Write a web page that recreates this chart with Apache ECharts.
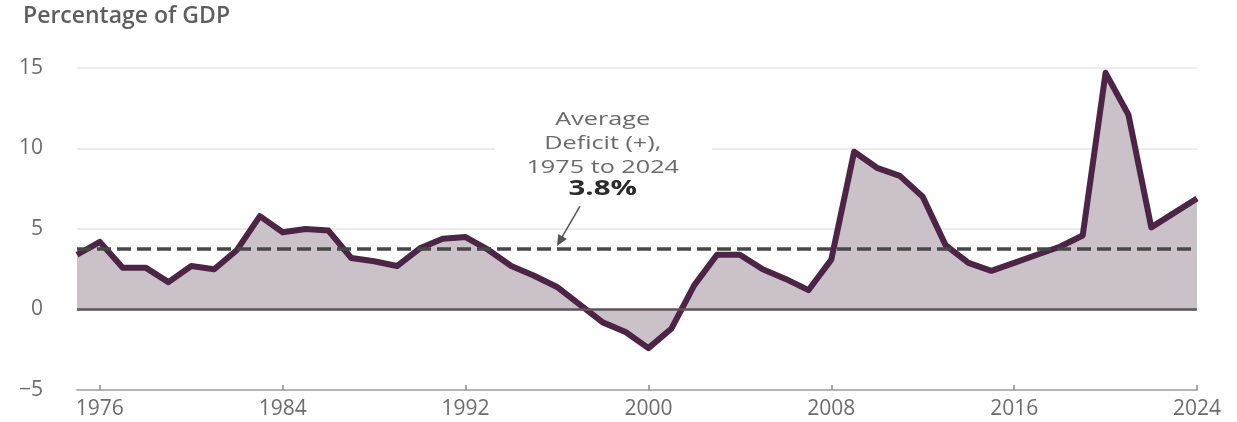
<!DOCTYPE html>
<html>
<head>
<meta charset="utf-8">
<script src="https://cdn.jsdelivr.net/npm/echarts@6/dist/echarts.min.js"></script>
<style>
  html, body { margin: 0; padding: 0; background: #fff; }
  #main { width: 1237px; height: 422px; }
</style>
</head>
<body>
<div id="main"></div>
<script>
// years 1975..2024
var years = [];
for (var y = 1975; y <= 2024; y++) years.push(String(y));

// deficit, percentage of GDP
var deficit = [
  3.4, 4.2, 2.6, 2.6, 1.7, 2.7, 2.5, 3.7, 5.8, 4.8,
  5.0, 4.9, 3.2, 3.0, 2.7, 3.8, 4.4, 4.5, 3.7, 2.7,
  2.1, 1.4, 0.3, -0.8, -1.4, -2.4, -1.2, 1.5, 3.4, 3.4,
  2.5, 1.9, 1.2, 3.1, 9.8, 8.8, 8.3, 7.0, 4.0, 2.9,
  2.4, 2.9, 3.4, 3.9, 4.6, 14.7, 12.1, 5.1, 6.0, 6.9
];
var avgDeficit = 3.8;
var yTicks = [-5, 0, 5, 10, 15];

var labelColor = '#6c6c6c';
var font = '"Open Sans", Lato, sans-serif';

var chart = echarts.init(document.getElementById('main'));
chart.setOption({
  animation: false,
  backgroundColor: '#fff',
  grid: { left: 77, right: 40, top: 68, bottom: 32 },
  title: {
    text: 'Percentage of GDP',
    left: 18, top: 0,
    textStyle: { fontFamily: font, fontSize: 23, fontWeight: 600, color: '#5e5e5e' }
  },
  xAxis: {
    type: 'category',
    data: years,
    boundaryGap: false,
    axisLine: { onZero: false, lineStyle: { color: '#b4b4b4', width: 2 } },
    axisTick: {
      show: true, length: 5, inside: true,
      lineStyle: { color: '#8a8a8a', width: 1.5 },
      interval: function (i, v) { return Number(v) % 8 === 0; }
    },
    axisLabel: {
      interval: function (i, v) { return Number(v) % 8 === 0; },
      color: labelColor, fontFamily: font, fontSize: 21, margin: 9
    },
    splitLine: { show: false }
  },
  yAxis: {
    type: 'value',
    min: yTicks[0], max: yTicks[yTicks.length - 1], interval: 5,
    axisLine: { show: false },
    axisTick: { show: false },
    axisLabel: {
      color: labelColor, fontFamily: font, fontSize: 21, margin: 34,
      formatter: function (v) { return v < 0 ? '\u2212' + (-v) : String(v); }
    },
    splitLine: { lineStyle: { color: '#e6e6e6', width: 1.5 } }
  },
  series: [{
    type: 'line',
    data: deficit,
    symbol: 'none',
    lineStyle: { color: '#4c2446', width: 6, join: 'round' },
    areaStyle: { color: '#cbc1c9', opacity: 1, origin: 0 },
    z: 3,
    markLine: {
      silent: true,
      symbol: 'none',
      label: { show: false },
      data: [
        { yAxis: 0, lineStyle: { color: '#5d5459', width: 2.5, type: 'solid' } },
        { yAxis: avgDeficit, lineStyle: { color: '#474747', width: 3.5, type: [14, 6] } }
      ]
    }
  }]
});

// annotation, anchored to the data space
var P = function (xIdx, val) { return chart.convertToPixel({ gridIndex: 0 }, [xIdx, val]); };
var cx = P(22.9, 0)[0];
var from = P(22.45, 6.4);
var to = P(20.8, 3.95);
var ang = Math.atan2(to[1] - from[1], to[0] - from[0]);
var hl = 11, hw = 5;
var head = [
  to,
  [to[0] - hl * Math.cos(ang) + hw * Math.sin(ang), to[1] - hl * Math.sin(ang) - hw * Math.cos(ang)],
  [to[0] - hl * Math.cos(ang) - hw * Math.sin(ang), to[1] - hl * Math.sin(ang) + hw * Math.cos(ang)]
];
chart.setOption({
  graphic: [
    { type: 'rect', shape: { x: cx - 108, y: 108, width: 217, height: 94 }, style: { fill: '#fff' }, z: 5 },
    {
      type: 'text', x: cx, y: 108, scaleX: 1.4, z: 6,
      style: {
        text: 'Average\nDeficit (+),\n1975 to 2024',
        fill: '#6a6a6a', font: '18px ' + font, align: 'center', lineHeight: 24
      }
    },
    {
      type: 'text', x: cx, y: 179, scaleX: 1.4, z: 6,
      style: { text: '3.8%', fill: '#2a2a2a', font: 'bold 21px ' + font, align: 'center' }
    },
    { type: 'line', shape: { x1: from[0], y1: from[1], x2: to[0] - 6 * Math.cos(ang), y2: to[1] - 6 * Math.sin(ang) }, style: { stroke: '#555', lineWidth: 1.5 }, z: 6 },
    { type: 'polygon', shape: { points: head }, style: { fill: '#555' }, z: 6 }
  ]
});
</script>
</body>
</html>
